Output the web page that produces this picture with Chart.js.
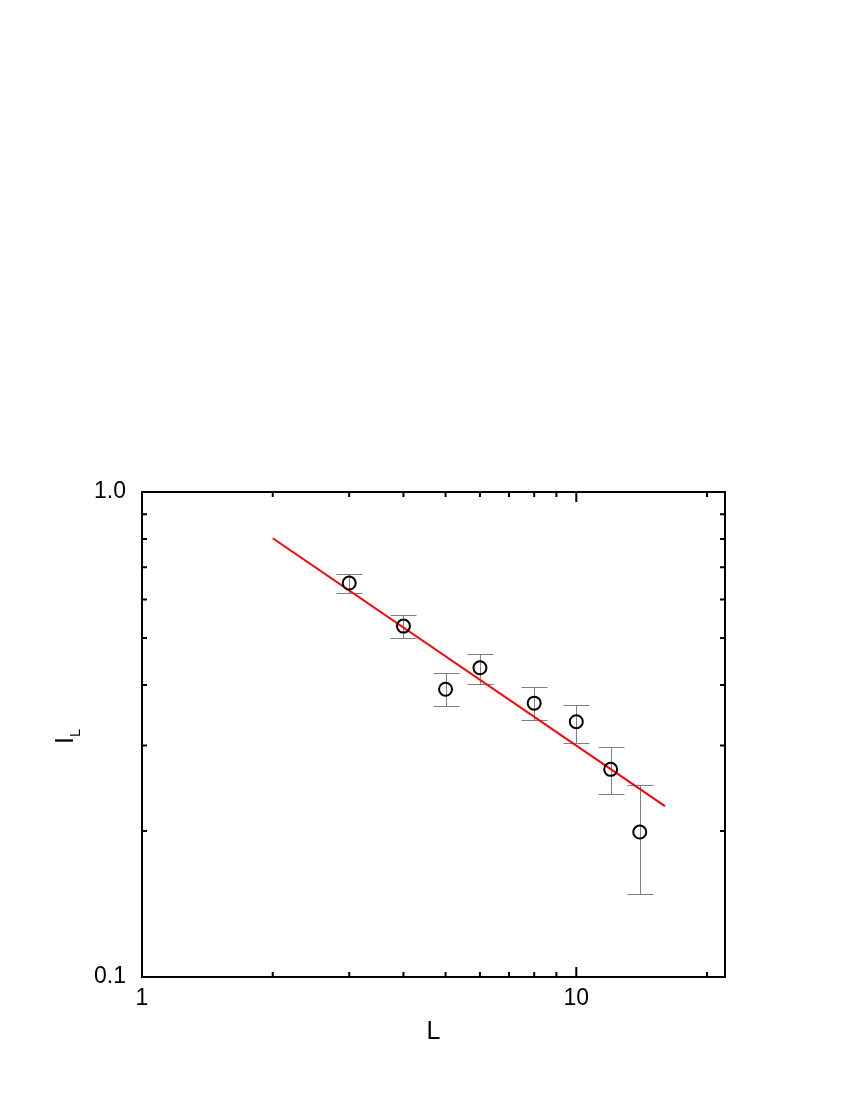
<!DOCTYPE html>
<html>
<head>
<meta charset="utf-8">
<script src="https://cdn.jsdelivr.net/npm/chart.js@4.4.1/dist/chart.umd.min.js"></script>
<style>
  body { margin: 0; background: #fff; }
  #wrap { width: 850px; height: 1100px; }
</style>
</head>
<body>
<div id="wrap"><canvas id="chart" width="850" height="1100"></canvas></div>
<script>
// data
const sizes = [3, 4, 5, 6, 8, 10, 12, 14];
const values = [0.649, 0.529, 0.392, 0.434, 0.367, 0.336, 0.268, 0.199];
const errHigh = [0.678, 0.558, 0.423, 0.463, 0.396, 0.364, 0.298, 0.249];
const errLow = [0.619, 0.500, 0.362, 0.402, 0.339, 0.304, 0.238, 0.148];

// fitted power law, end points
const fitX = [2, 16];
const fitY = [0.803, 0.225];

// ticks
const xMinorTicks = [2, 3, 4, 5, 6, 7, 8, 9, 20];
const xMajorTicks = [10];
const yMinorTicks = [0.2, 0.3, 0.4, 0.5, 0.6, 0.7, 0.8, 0.9];
const xLabels = { 1: "1", 10: "10" };
const yLabels = { 0.1: "0.1", 1: "1.0" };

const fontName = "'Liberation Sans', Arial, sans-serif";

// error bars, drawn under the circles
const errorBars = {
  id: "errorBars",
  beforeDatasetsDraw(chart) {
    const ctx = chart.ctx;
    const xs = chart.scales.x, ys = chart.scales.y;
    ctx.save();
    ctx.strokeStyle = "#808080";
    ctx.lineWidth = 1;
    for (let i = 0; i < sizes.length; i++) {
      const px = Math.round(xs.getPixelForValue(sizes[i])) + 0.5;
      const top = Math.round(ys.getPixelForValue(errHigh[i])) + 0.5;
      const bot = Math.round(ys.getPixelForValue(errLow[i])) + 0.5;
      ctx.beginPath();
      ctx.moveTo(px, top); ctx.lineTo(px, bot);
      ctx.moveTo(px - 13, top); ctx.lineTo(px + 13, top);
      ctx.moveTo(px - 13, bot); ctx.lineTo(px + 13, bot);
      ctx.stroke();
    }
    ctx.restore();
  }
};

// frame with inward ticks on all sides, plus the y title
const frame = {
  id: "frame",
  afterDraw(chart) {
    const ctx = chart.ctx;
    const a = chart.chartArea;
    const xs = chart.scales.x, ys = chart.scales.y;
    ctx.save();
    ctx.strokeStyle = "#000";
    ctx.lineWidth = 2;
    ctx.beginPath();
    ctx.rect(a.left, a.top, a.right - a.left, a.bottom - a.top);
    ctx.stroke();

    ctx.beginPath();
    const xTick = (v, len) => {
      const p = xs.getPixelForValue(v);
      ctx.moveTo(p, a.bottom); ctx.lineTo(p, a.bottom - len);
      ctx.moveTo(p, a.top); ctx.lineTo(p, a.top + len);
    };
    const yTick = (v, len) => {
      const p = ys.getPixelForValue(v);
      ctx.moveTo(a.left, p); ctx.lineTo(a.left + len, p);
      ctx.moveTo(a.right, p); ctx.lineTo(a.right - len, p);
    };
    xMinorTicks.forEach(v => xTick(v, 5));
    xMajorTicks.forEach(v => xTick(v, 10));
    yMinorTicks.forEach(v => yTick(v, 5));
    ctx.stroke();

    // y title: I with subscript L, rotated
    ctx.fillStyle = "#000";
    ctx.translate(73, 744);
    ctx.rotate(-Math.PI / 2);
    ctx.textBaseline = "alphabetic";
    ctx.font = "25px " + fontName;
    ctx.fillText("I", 0, 0);
    const w = ctx.measureText("I").width;
    ctx.font = "15px " + fontName;
    ctx.fillText("L", w, 7);
    ctx.restore();
  }
};

new Chart(document.getElementById("chart"), {
  type: "scatter",
  data: {
    datasets: [
      {
        label: "fit",
        type: "line",
        data: fitX.map((x, i) => ({ x: x, y: fitY[i] })),
        borderColor: "#ff0000",
        borderWidth: 2,
        pointRadius: 0,
        fill: false,
        order: 2,
      },
      {
        label: "I_L",
        data: sizes.map((x, i) => ({ x: x, y: values[i] })),
        pointStyle: "circle",
        pointRadius: 6.5,
        borderColor: "#000",
        borderWidth: 2,
        backgroundColor: "rgba(0,0,0,0)",
        order: 1,
      },
    ],
  },
  options: {
    responsive: false,
    animation: false,
    layout: { padding: { top: 492, right: 125, left: 0, bottom: 0 } },
    plugins: { legend: { display: false }, tooltip: { enabled: false } },
    scales: {
      x: {
        type: "logarithmic",
        min: 1,
        max: 22,
        afterFit: (s) => { s.height = 123; },
        grid: { display: false, drawTicks: false },
        border: { display: false },
        ticks: {
          autoSkip: false,
          maxRotation: 0,
          padding: 8,
          color: "#000",
          font: { family: fontName, size: 23 },
          callback: (v) => xLabels[v] || "",
        },
        title: {
          display: true,
          text: "L",
          color: "#000",
          font: { family: fontName, size: 25 },
          padding: { top: 0, bottom: 53 },
        },
      },
      y: {
        type: "logarithmic",
        min: 0.1,
        max: 1,
        afterFit: (s) => { s.width = 142; },
        grid: { display: false, drawTicks: false },
        border: { display: false },
        ticks: {
          autoSkip: false,
          padding: 16,
          color: "#000",
          font: { family: fontName, size: 23 },
          callback: (v) => {
            if (Math.abs(v - 0.1) < 1e-9) return yLabels[0.1];
            if (Math.abs(v - 1) < 1e-9) return yLabels[1];
            return "";
          },
        },
      },
    },
  },
  plugins: [errorBars, frame],
});
</script>
</body>
</html>
